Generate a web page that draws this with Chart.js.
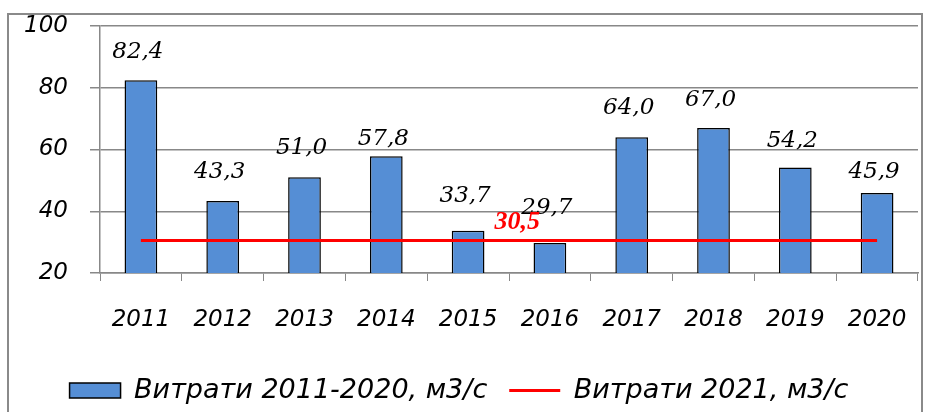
<!DOCTYPE html>
<html>
<head>
<meta charset="utf-8">
<script src="https://cdn.jsdelivr.net/npm/chart.js@4"></script>
<style>
  html, body { margin: 0; padding: 0; background: #fff; }
  #wrap { position: relative; width: 934px; height: 412px; }
</style>
</head>
<body>
<div id="wrap"><canvas id="flowChart"></canvas></div>
<script>
const years = ["2011", "2012", "2013", "2014", "2015", "2016", "2017", "2018", "2019", "2020"];
const flows = [82.4, 43.3, 51.0, 57.8, 33.7, 29.7, 64.0, 67.0, 54.2, 45.9];
const flow2021 = 30.5;
const flow2021Line = years.map(() => flow2021);
const yTicks = [20, 40, 60, 80, 100];

const seriesNames = ["Витрати 2011-2020, м3/с", "Витрати 2021, м3/с"];

// how far above each bar top its label sits (excel had them nudged by hand)
const labelLift = [28, 29, 29, 17, 35, 35, 29, 28, 26, 21];

const fmt = (v) => v.toFixed(1).replace(".", ",");
const axisFont = { family: "'DejaVu Sans', sans-serif", style: "italic", size: 23 };
const legendFont = { family: "'DejaVu Sans', sans-serif", style: "italic", size: 27 };

// outer frame like the excel chart area
const framePlugin = {
  id: "frame",
  beforeDraw(chart) {
    const ctx = chart.ctx;
    ctx.save();
    ctx.fillStyle = "#fff";
    ctx.fillRect(0, 0, chart.width, chart.height);
    ctx.strokeStyle = "#8a8a8a";
    ctx.lineWidth = 2;
    ctx.strokeRect(8, 14, 914, 420);
    ctx.restore();
  },
};

// value labels above bars and the red label on the 2021 line
const labelPlugin = {
  id: "valueLabels",
  afterDatasetsDraw(chart) {
    const ctx = chart.ctx;
    ctx.save();
    ctx.textAlign = "center";
    ctx.textBaseline = "middle";
    ctx.fillStyle = "#000";
    ctx.font = "italic 23px 'DejaVu Serif', serif";
    chart.getDatasetMeta(0).data.forEach((bar, i) => {
      ctx.fillText(fmt(flows[i]), bar.x - 3, bar.y - labelLift[i]);
    });
    const pts = chart.getDatasetMeta(1).data;
    const x = pts[4].x + 0.6 * (pts[5].x - pts[4].x);
    ctx.fillStyle = "#ff0000";
    ctx.font = "italic bold 26px 'Liberation Serif', serif";
    ctx.fillText(fmt(flow2021), x, pts[4].y - 18);
    ctx.restore();
  },
};

const chartCtx = document.getElementById("flowChart").getContext("2d");
const flowChart = new Chart(chartCtx, {
  data: {
    labels: years,
    datasets: [
      {
        type: "bar",
        label: seriesNames[0],
        data: flows,
        backgroundColor: "#558ed5",
        borderColor: "#000",
        borderWidth: 1.5,
        barPercentage: 0.4,
        categoryPercentage: 1,
        pointStyle: "rect",
        order: 2,
      },
      {
        type: "line",
        label: seriesNames[1],
        data: flow2021Line,
        borderColor: "#ff0000",
        borderWidth: 3,
        pointRadius: 0,
        pointStyle: "line",
        fill: false,
        order: 1,
      },
    ],
  },
  options: {
    responsive: true,
    maintainAspectRatio: false,
    animation: false,
    layout: { padding: { top: 26, right: 16, left: 0, bottom: -2 } },
    plugins: {
      legend: {
        display: true,
        position: "bottom",
        labels: {
          usePointStyle: true,
          pointStyleWidth: 51,
          boxHeight: 15,
          padding: 22,
          color: "#000",
          font: legendFont,
          sort: (a, b) => a.datasetIndex - b.datasetIndex,
        },
      },
      tooltip: { enabled: false },
    },
    scales: {
      x: {
        offset: true,
        grid: {
          offset: true,
          drawOnChartArea: false,
          drawTicks: true,
          tickLength: 8,
          color: "#888",
        },
        border: { color: "#888", width: 1.5 },
        ticks: { color: "#000", font: axisFont, padding: 25, maxRotation: 0 },
        afterFit: (scale) => { scale.height = 82; },
      },
      y: {
        min: 20,
        max: 100,
        afterBuildTicks: (scale) => { scale.ticks = yTicks.map((v) => ({ value: v })); },
        grid: { color: "#888", lineWidth: 1.5, drawTicks: true, tickLength: 10 },
        border: { color: "#888", width: 1.5 },
        ticks: { color: "#000", font: axisFont, padding: 22 },
        afterFit: (scale) => {
          scale.width = 100;
          scale.paddingTop = 0;
          scale.paddingBottom = 0;
        },
      },
    },
  },
  plugins: [framePlugin, labelPlugin],
});
</script>
</body>
</html>
